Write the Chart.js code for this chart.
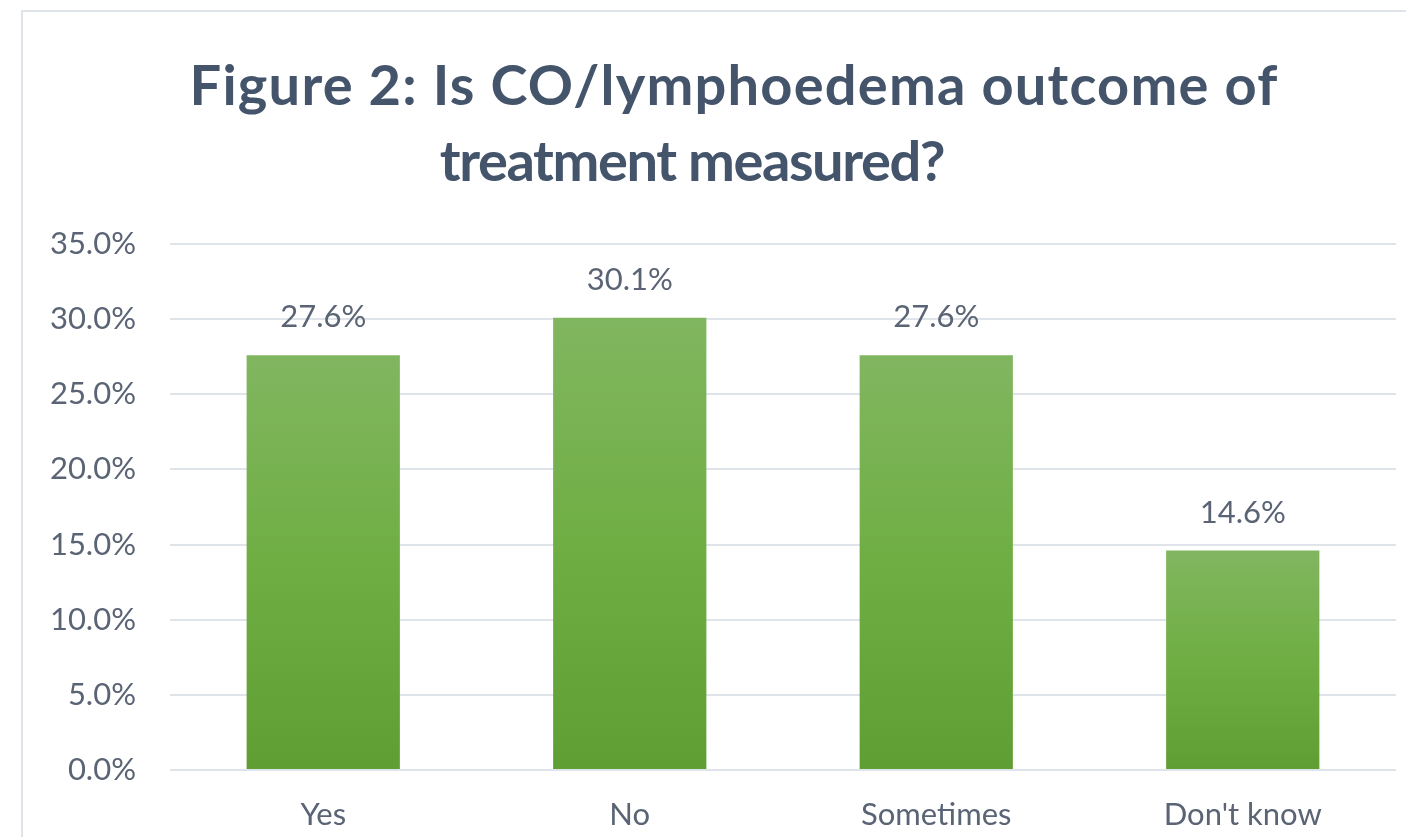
<!DOCTYPE html>
<html>
<head>
<meta charset="utf-8">
<script src="https://cdn.jsdelivr.net/npm/chart.js@4.4.0/dist/chart.umd.min.js"></script>
<style>
  html, body { margin: 0; padding: 0; background: #fff; }
  #frame { position: absolute; left: 21px; top: 10px; width: 1400px; height: 840px;
           border-left: 2px solid #dfe3ea; border-top: 2px solid #dfe3ea; }
  #wrap { position: absolute; left: 0; top: 0; width: 1406px; height: 837px; }
</style>
</head>
<body>
<div id="frame"></div>
<div id="wrap"><canvas id="grafico" width="1406" height="837"></canvas></div>
<script>
var categorias = ['Yes', 'No', 'Sometimes', "Don't know"];
var valores = [27.6, 30.1, 27.6, 14.6];
var titulo = ['Figure 2: Is CO/lymphoedema outcome of', 'treatment measured?'];

var corTexto = '#5a6475';

// gradiente por barra, do topo ate a base
var fundoBarra = function(context){
	var chart = context.chart;
	if (!chart.chartArea) return '#6fac45';
	var y = chart.scales.y;
	var topo = y.getPixelForValue(context.raw);
	var base = y.getPixelForValue(0);
	var g = chart.ctx.createLinearGradient(0, topo, 0, base);
	g.addColorStop(0, '#81b660');
	g.addColorStop(0.5, '#6fae43');
	g.addColorStop(1, '#5f9e33');
	return g;
};

var rotulosBarras = {
	id: 'rotulosBarras',
	afterDatasetsDraw: function(chart){
		var ctx = chart.ctx;
		var meta = chart.getDatasetMeta(0);
		ctx.save();
		ctx.font = '31px Lato';
		ctx.fillStyle = corTexto;
		ctx.textAlign = 'center';
		ctx.textBaseline = 'middle';
		for (var i = 0; i < meta.data.length; i++) {
			var bar = meta.data[i];
			ctx.fillText(valores[i].toFixed(1) + '%', bar.x, bar.y - 38);
		}
		ctx.restore();
	}
};

// titulo desenhado a mao, cada linha com o seu centro
var tituloPlugin = {
	id: 'tituloPlugin',
	afterDraw: function(chart){
		var ctx = chart.ctx;
		ctx.save();
		ctx.font = 'bold 56px Lato';
		ctx.fillStyle = '#44546a';
		ctx.textAlign = 'center';
		ctx.textBaseline = 'alphabetic';
		ctx.letterSpacing = '1.2px';
		ctx.fillText(titulo[0], 734, 105);
		ctx.letterSpacing = '-1.4px';
		ctx.fillText(titulo[1], 692, 181);
		ctx.restore();
	}
};

var myBarChart = new Chart(document.getElementById('grafico'), {
	type: 'bar',
	data: {
		labels: categorias,
		datasets: [{
			data: valores,
			backgroundColor: fundoBarra,
			categoryPercentage: 1.0,
			barPercentage: 0.5
		}]
	},
	options: {
		responsive: false,
		animation: false,
		layout: { padding: { left: 0, right: 10, top: 244, bottom: 0 } },
		plugins: {
			legend: { display: false },
			tooltip: { enabled: false },
			title: { display: false }
		},
		scales: {
			x: {
				grid: { display: false, drawTicks: false },
				border: { display: false },
				ticks: { color: corTexto, font: { family: 'Lato', size: 31 }, padding: 26 },
				afterFit: function(scale){ scale.height = 67; }
			},
			y: {
				min: 0,
				max: 35,
				grid: { color: '#dfe3ea', lineWidth: 2, drawTicks: false },
				border: { display: false },
				ticks: {
					stepSize: 5,
					color: corTexto,
					font: { family: 'Lato', size: 31 },
					padding: 34,
					callback: function(v){ return v.toFixed(1) + '%'; }
				},
				afterFit: function(scale){ scale.width = 170; }
			}
		}
	},
	plugins: [rotulosBarras, tituloPlugin]
});
</script>
</body>
</html>
